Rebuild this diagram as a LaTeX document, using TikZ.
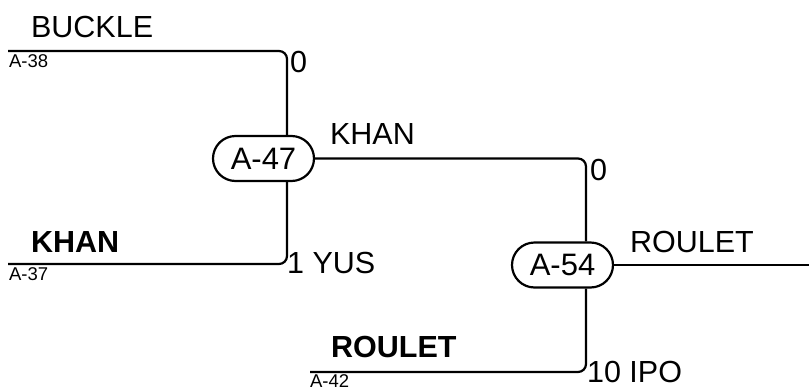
\documentclass[tikz,border=0pt]{standalone}
\usepackage{fontspec}
\setmainfont{Liberation Sans}
\usetikzlibrary{shapes.misc}
\begin{document}
\begin{tikzpicture}[x=1pt,y=-1pt,
  line width=2.2pt,
  match/.style={draw, rounded rectangle, minimum width=101pt, minimum height=45pt, inner sep=0pt, font=\fontsize{31}{36}\selectfont},
  big/.style={anchor=base west, inner sep=0pt, font=\fontsize{30.5}{36}\selectfont},
  bigb/.style={anchor=base west, inner sep=0pt, font=\fontsize{30.5}{36}\selectfont\bfseries},
  small/.style={anchor=base west, inner sep=0pt, font=\fontsize{18.5}{21}\selectfont},
  wire/.style={rounded corners=8pt}]
\useasboundingbox (0,0) rectangle (809,389);
% match nodes
\node[match] (a47) at (263.5,158.5) {A-47};
\node[match] (a54) at (562.5,265) {A-54};
% coordinates
\coordinate (s38) at (8,51);
\coordinate (s37) at (8,264);
\coordinate (s42) at (310,372);
\coordinate (x1) at (287,0);
\coordinate (x2) at (586,0);
\coordinate (fin) at (809,265);
% wires
\draw[wire] (s38) -| (a47.north -| x1);
\draw[wire] (s37) -| (a47.south -| x1);
\draw[wire] (a47.east) -| (a54.north -| x2);
\draw[wire] (s42) -| (a54.south -| x2);
\draw (a54.east) -- (fin);
% labels
\node[big] (t1) at (30,37) {BUCKLE};
\node[small] (t2) at (8,67) {A-38};
\node[big] (t3) at (289,72) {0};
\node[bigb] (t4) at (30,252) {KHAN};
\node[small] (t5) at (8,280) {A-37};
\node[big] (t6) at (286,273) {1 YUS};
\node[big] (t7) at (329,144) {KHAN};
\node[big] (t8) at (589,180) {0};
\node[big] (t9) at (629,252) {ROULET};
\node[bigb] (t10) at (330,357) {ROULET};
\node[big] (t11) at (586,382) {10 IPO};
\node[small] (t12) at (309,387.5) {A-42};
\end{tikzpicture}
\end{document}
